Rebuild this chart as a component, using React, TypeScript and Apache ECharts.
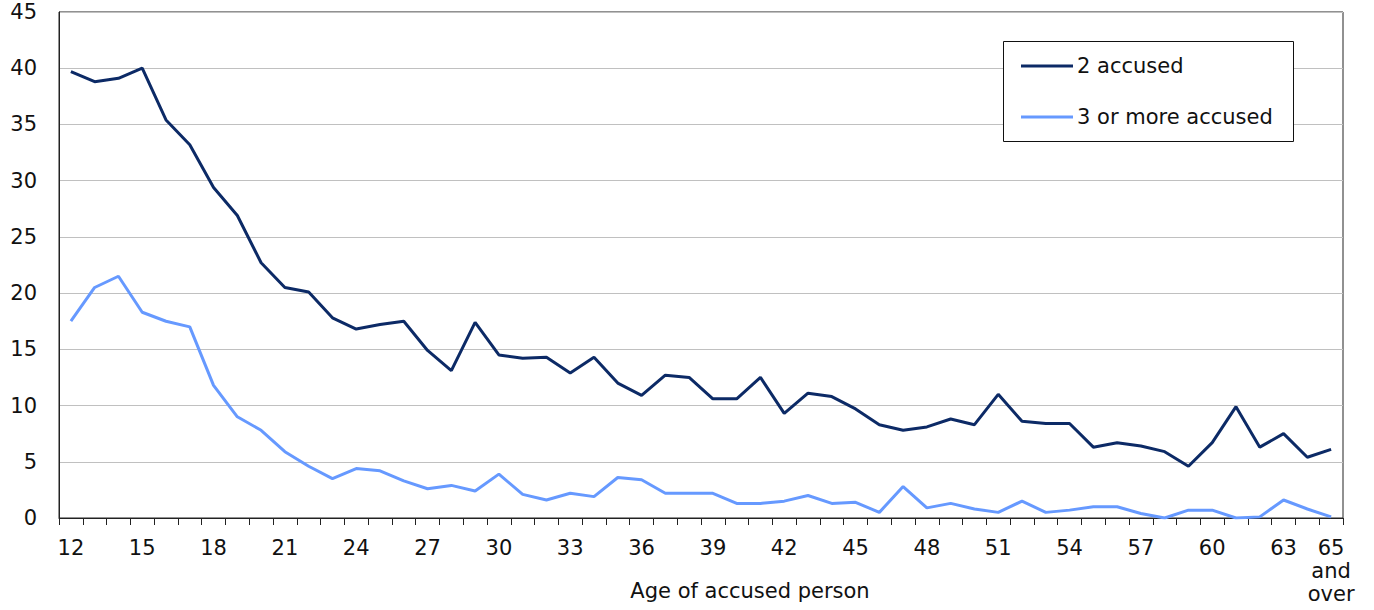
import React, { useEffect, useRef } from "react";
import * as echarts from "echarts";

const ages: string[] = [
  "12","13","14","15","16","17","18","19","20","21","22","23","24","25","26","27","28","29","30",
  "31","32","33","34","35","36","37","38","39","40","41","42","43","44","45","46","47","48","49",
  "50","51","52","53","54","55","56","57","58","59","60","61","62","63","64","65\nand\nover",
];

const twoAccused: number[] = [
  39.7, 38.8, 39.1, 40.0, 35.4, 33.2, 29.4, 26.9, 22.7, 20.5, 20.1, 17.8, 16.8, 17.2, 17.5, 14.9, 13.1,
  17.4, 14.5, 14.2, 14.3, 12.9, 14.3, 12.0, 10.9, 12.7, 12.5, 10.6, 10.6, 12.5, 9.3, 11.1, 10.8, 9.7,
  8.3, 7.8, 8.1, 8.8, 8.3, 11.0, 8.6, 8.4, 8.4, 6.3, 6.7, 6.4, 5.9, 4.6, 6.7, 9.9, 6.3, 7.5, 5.4, 6.1,
];

const threeOrMore: number[] = [
  17.5, 20.5, 21.5, 18.3, 17.5, 17.0, 11.8, 9.0, 7.8, 5.9, 4.6, 3.5, 4.4, 4.2, 3.3, 2.6, 2.9,
  2.4, 3.9, 2.1, 1.6, 2.2, 1.9, 3.6, 3.4, 2.2, 2.2, 2.2, 1.3, 1.3, 1.5, 2.0, 1.3, 1.4,
  0.5, 2.8, 0.9, 1.3, 0.8, 0.5, 1.5, 0.5, 0.7, 1.0, 1.0, 0.4, 0.0, 0.7, 0.7, 0.0, 0.1, 1.6, 0.8, 0.1,
];

const seriesNames: string[] = ["2 accused", "3 or more accused"];
const xTitle = "Age of accused person";

const FONT = "DejaVu Sans";

export default function App() {
  const ref = useRef<HTMLDivElement>(null);
  useEffect(() => {
    if (!ref.current) return;
    const chart = echarts.init(ref.current, undefined, { renderer: "svg" });
    chart.setOption({
      animation: false,
      backgroundColor: "#ffffff",
      textStyle: { fontFamily: FONT },
      grid: {
        left: 59,
        right: 31,
        top: 12,
        bottom: 92,
        show: true,
        borderColor: "#222222",
        borderWidth: 1,
        containLabel: false,
      },
      legend: {
        orient: "vertical",
        left: 1021,
        top: 54,
        padding: 0,
        icon: "rect",
        itemWidth: 52,
        itemHeight: 3,
        itemGap: 27,
        z: 10,
        textStyle: { fontFamily: FONT, fontSize: 21, color: "#111111", lineHeight: 24, padding: [0, 0, 0, -1] },
        data: seriesNames,
      },
      graphic: [
        {
          type: "rect",
          z: 5,
          shape: { x: 1003.5, y: 41.5, width: 290, height: 100 },
          style: { fill: "#ffffff", stroke: "#111111", lineWidth: 1 },
        },
        {
          type: "text",
          z: 5,
          x: 750,
          y: 591,
          style: {
            text: xTitle,
            fontFamily: FONT,
            fontSize: 21,
            fill: "#111111",
            align: "center",
            verticalAlign: "middle",
          },
        },
      ],
      xAxis: {
        type: "category",
        data: ages,
        boundaryGap: true,
        axisLine: { show: true, lineStyle: { color: "#222222", width: 1 } },
        axisTick: { show: true, interval: 0, length: 7, lineStyle: { color: "#222222" } },
        axisLabel: {
          interval: (index: number) => index % 3 === 0 || index === ages.length - 1,
          hideOverlap: false,
          fontFamily: FONT,
          fontSize: 21,
          lineHeight: 23,
          color: "#111111",
          margin: 18,
        },
        splitLine: { show: false },
      },
      yAxis: {
        type: "value",
        min: 0,
        max: 45,
        interval: 5,
        axisLine: { show: true, lineStyle: { color: "#222222", width: 1 } },
        axisTick: { show: false },
        axisLabel: { fontFamily: FONT, fontSize: 21, color: "#111111", margin: 22 },
        splitLine: { show: true, lineStyle: { color: "#c0c0c0", width: 1 } },
      },
      series: [
        {
          name: seriesNames[0],
          type: "line",
          data: twoAccused,
          symbol: "none",
          lineStyle: { color: "#0c2a66", width: 3 },
          itemStyle: { color: "#0c2a66" },
        },
        {
          name: seriesNames[1],
          type: "line",
          data: threeOrMore,
          symbol: "none",
          lineStyle: { color: "#6699ff", width: 3 },
          itemStyle: { color: "#6699ff" },
        },
      ],
    });
    return () => chart.dispose();
  }, []);
  return (
    <div
      ref={ref}
      style={{ position: "fixed", left: 0, top: 0, width: 1374, height: 610 }}
    />
  );
}
